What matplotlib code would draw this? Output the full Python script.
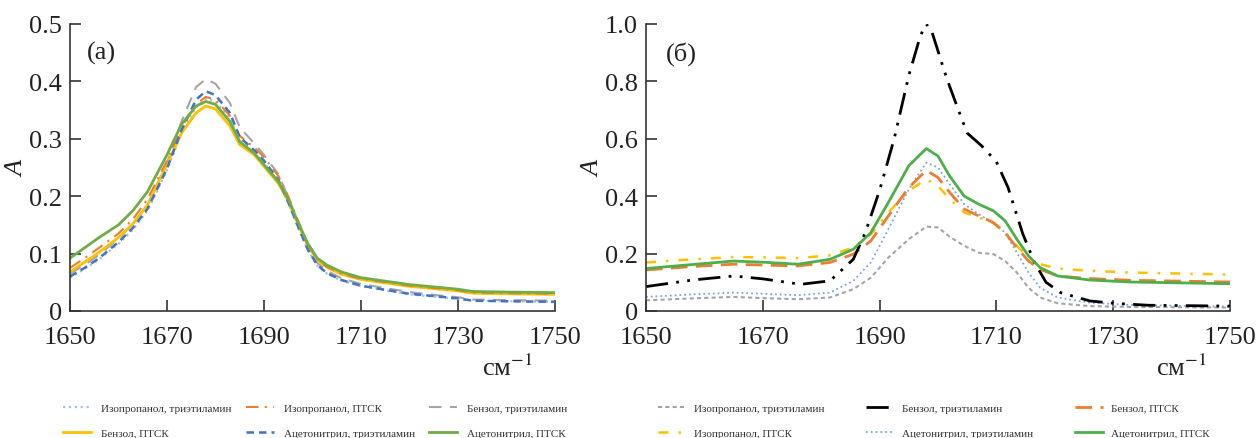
import matplotlib
matplotlib.use("Agg")
import matplotlib.pyplot as plt

plt.rcParams['font.family'] = ['Liberation Serif', 'DejaVu Serif']
plt.rcParams['mathtext.fontset'] = 'stix'

# panel (a)
x_a = [1650, 1653, 1656, 1660, 1663, 1666, 1670, 1673, 1676, 1678, 1680, 1683, 1685, 1688, 1690,
       1693, 1695, 1697, 1699, 1701, 1703, 1706, 1710, 1715, 1720, 1725, 1730, 1733, 1740, 1750]
a_iso_tea = [0.058, 0.073, 0.090, 0.117, 0.142, 0.175, 0.245, 0.310, 0.355, 0.370, 0.365, 0.335, 0.298, 0.276, 0.258,
             0.225, 0.188, 0.146, 0.107, 0.079, 0.065, 0.053, 0.043, 0.036, 0.029, 0.025, 0.021, 0.018, 0.017, 0.016]
a_iso_ptsk = [0.075, 0.092, 0.110, 0.135, 0.160, 0.195, 0.262, 0.320, 0.360, 0.373, 0.368, 0.340, 0.305, 0.285, 0.268,
              0.235, 0.200, 0.158, 0.118, 0.090, 0.077, 0.065, 0.056, 0.050, 0.044, 0.040, 0.036, 0.032, 0.031, 0.030]
a_benz_tea = [0.065, 0.080, 0.098, 0.126, 0.152, 0.185, 0.258, 0.330, 0.390, 0.404, 0.396, 0.362, 0.320, 0.292, 0.272,
              0.238, 0.198, 0.155, 0.113, 0.084, 0.070, 0.057, 0.047, 0.040, 0.033, 0.028, 0.024, 0.020, 0.019, 0.018]
a_benz_ptsk = [0.068, 0.085, 0.102, 0.128, 0.152, 0.185, 0.255, 0.310, 0.345, 0.357, 0.352, 0.322, 0.290, 0.272, 0.252,
               0.222, 0.192, 0.152, 0.115, 0.089, 0.076, 0.064, 0.055, 0.049, 0.043, 0.039, 0.035, 0.031, 0.030, 0.029]
a_acn_tea = [0.060, 0.075, 0.092, 0.120, 0.145, 0.178, 0.248, 0.315, 0.368, 0.383, 0.376, 0.345, 0.303, 0.280, 0.262,
             0.228, 0.190, 0.148, 0.108, 0.080, 0.066, 0.054, 0.044, 0.037, 0.030, 0.026, 0.022, 0.018, 0.017, 0.016]
a_acn_ptsk = [0.092, 0.110, 0.128, 0.150, 0.175, 0.208, 0.272, 0.325, 0.357, 0.365, 0.360, 0.330, 0.295, 0.275, 0.255,
              0.225, 0.195, 0.155, 0.118, 0.092, 0.080, 0.068, 0.058, 0.052, 0.046, 0.042, 0.038, 0.034, 0.033, 0.032]

# panel (б)
x_b = [1650, 1658, 1665, 1670, 1676, 1681.5, 1685.5, 1688.5, 1691.5, 1695, 1698, 1700, 1702, 1704.5, 1707,
       1709.5, 1711.5, 1713.5, 1715.5, 1717.5, 1720.5, 1726, 1733, 1750]
b_iso_tea = [0.037, 0.044, 0.049, 0.045, 0.041, 0.047, 0.076, 0.116, 0.186, 0.250, 0.294, 0.291, 0.259, 0.227, 0.203,
             0.198, 0.174, 0.134, 0.081, 0.047, 0.027, 0.017, 0.014, 0.012]
b_iso_ptsk = [0.169, 0.180, 0.188, 0.187, 0.184, 0.194, 0.221, 0.267, 0.343, 0.419, 0.459, 0.436, 0.390, 0.343, 0.326,
              0.306, 0.273, 0.227, 0.186, 0.163, 0.148, 0.140, 0.134, 0.127]
b_benz_ptsk = [0.143, 0.155, 0.163, 0.160, 0.157, 0.169, 0.198, 0.244, 0.331, 0.430, 0.490, 0.465, 0.413, 0.355, 0.331,
               0.308, 0.273, 0.221, 0.174, 0.145, 0.122, 0.113, 0.107, 0.101]
b_acn_tea = [0.049, 0.058, 0.064, 0.060, 0.055, 0.064, 0.105, 0.169, 0.285, 0.424, 0.517, 0.500, 0.442, 0.372, 0.337,
             0.306, 0.273, 0.203, 0.134, 0.081, 0.047, 0.029, 0.021, 0.015]
b_acn_ptsk = [0.148, 0.162, 0.174, 0.170, 0.163, 0.180, 0.215, 0.273, 0.378, 0.506, 0.566, 0.540, 0.470, 0.400, 0.372,
              0.349, 0.314, 0.250, 0.192, 0.151, 0.122, 0.108, 0.101, 0.095]
x_b_benz_tea = [1650, 1658, 1665, 1670, 1676.5, 1681.5, 1685.5, 1687.5, 1690, 1692.5, 1695, 1697, 1698, 1699,
                1701.5, 1703.5, 1705, 1707.5, 1710, 1712, 1714.5, 1716.5, 1718.5, 1721, 1726, 1730, 1736, 1750]
b_benz_tea = [0.085, 0.108, 0.122, 0.112, 0.093, 0.105, 0.180, 0.270, 0.420, 0.600, 0.820, 0.960, 1.000, 0.970,
              0.810, 0.700, 0.620, 0.575, 0.520, 0.430, 0.270, 0.170, 0.100, 0.064, 0.035, 0.027, 0.020, 0.017]

x_ticks = [1650, 1670, 1690, 1710, 1730, 1750]

fig = plt.figure(figsize=(12.56, 4.39), dpi=100)
ax1 = fig.add_axes([0.0557, 0.2893, 0.3861, 0.6538])
ax2 = fig.add_axes([0.5143, 0.2893, 0.465, 0.6538])

ax1.plot(x_a, a_iso_tea, color='#9dc3e6', lw=1.6, ls=':', label='Изопропанол, триэтиламин')
ax1.plot(x_a, a_benz_tea, color='#a5a5a5', lw=1.5, ls=(0, (6, 4)), label='Бензол, триэтиламин')
ax1.plot(x_a, a_benz_ptsk, color='#ffc000', lw=2, label='Бензол, ПТСК')
ax1.plot(x_a, a_iso_ptsk, color='#ed7d31', lw=1.5, ls=(0, (6, 3, 1, 3)), label='Изопропанол, ПТСК')
ax1.plot(x_a, a_acn_tea, color='#4472c4', lw=1.8, ls=(0, (3, 2)), label='Ацетонитрил, триэтиламин')
ax1.plot(x_a, a_acn_ptsk, color='#70ad47', lw=2, label='Ацетонитрил, ПТСК')

ax2.plot(x_b, b_iso_tea, color='#a5a5a5', lw=1.5, ls=(0, (2, 1.5)), label='Изопропанол, триэтиламин')
ax2.plot(x_b, b_acn_tea, color='#7aa6dc', lw=1.3, ls=':', label='Ацетонитрил, триэтиламин')
ax2.plot(x_b, b_iso_ptsk, color='#ffc000', lw=1.8, ls=(0, (4, 4, 1, 4)), label='Изопропанол, ПТСК')
ax2.plot(x_b, b_benz_ptsk, color='#ed7d31', lw=2, ls=(0, (6, 3)), label='Бензол, ПТСК')
ax2.plot(x_b_benz_tea, b_benz_tea, color='black', lw=2, ls=(0, (8, 3, 1, 3, 1, 3)), label='Бензол, триэтиламин')
ax2.plot(x_b, b_acn_ptsk, color='#4daf4a', lw=2, label='Ацетонитрил, ПТСК')

for ax, ymax, yticks, ylabels, tag in [
        (ax1, 0.5, [0, 0.1, 0.2, 0.3, 0.4, 0.5], ['0', '0.1', '0.2', '0.3', '0.4', '0.5'], '(a)'),
        (ax2, 1.0, [0, 0.2, 0.4, 0.6, 0.8, 1.0], ['0', '0.2', '0.4', '0.6', '0.8', '1.0'], '(б)')]:
    ax.set_xlim(1650, 1750)
    ax.set_ylim(0, ymax)
    ax.set_xticks(x_ticks)
    ax.set_yticks(yticks)
    ax.set_yticklabels(ylabels)
    ax.spines['top'].set_visible(False)
    ax.spines['right'].set_visible(False)
    for s in ['left', 'bottom']:
        ax.spines[s].set_color('#333333')
        ax.spines[s].set_linewidth(1.2)
    ax.tick_params(direction='in', length=8, width=1.2, color='#333333', labelsize=19,
                   labelcolor='#222222')
    ax.tick_params(axis='x', pad=11)
    ax.tick_params(axis='y', pad=6)
    ax.set_ylabel('A', fontsize=19, fontstyle='italic', labelpad=0, color='#222222')
    ax.text(0.034, 0.9, tag, transform=ax.transAxes, fontsize=19, color='#222222', va='center')

fig.text(482 / 1256, 1 - 376 / 439, 'см$^{-1}$', fontsize=19, color='#222222', va='baseline')
fig.text(1156 / 1256, 1 - 376 / 439, 'см$^{-1}$', fontsize=19, color='#222222', va='baseline')


def order(ax, names):
    h, l = ax.get_legend_handles_labels()
    d = dict(zip(l, h))
    return [d[n] for n in names], names


# legend order: column-wise for ncol=3, two rows
h1, l1 = order(ax1, ['Изопропанол, триэтиламин', 'Бензол, ПТСК',
                     'Изопропанол, ПТСК', 'Ацетонитрил, триэтиламин',
                     'Бензол, триэтиламин', 'Ацетонитрил, ПТСК'])
h2, l2 = order(ax2, ['Изопропанол, триэтиламин', 'Изопропанол, ПТСК',
                     'Бензол, триэтиламин', 'Ацетонитрил, триэтиламин',
                     'Бензол, ПТСК', 'Ацетонитрил, ПТСК'])

fig.legend(h1, l1, ncol=3, loc='upper left', bbox_to_anchor=(63 / 1256, 1 - 404 / 439),
           frameon=False, fontsize=8, handlelength=2.5, handletextpad=0.9, columnspacing=1.3,
           borderpad=0, borderaxespad=0, labelspacing=1.35, labelcolor='#333333')
fig.legend(h2, l2, ncol=3, loc='upper left', bbox_to_anchor=(658 / 1256, 1 - 404 / 439),
           frameon=False, fontsize=8, handlelength=2.5, handletextpad=0.7, columnspacing=3.8,
           borderpad=0, borderaxespad=0, labelspacing=1.35, labelcolor='#333333')

fig.savefig('out.png', dpi=100)
